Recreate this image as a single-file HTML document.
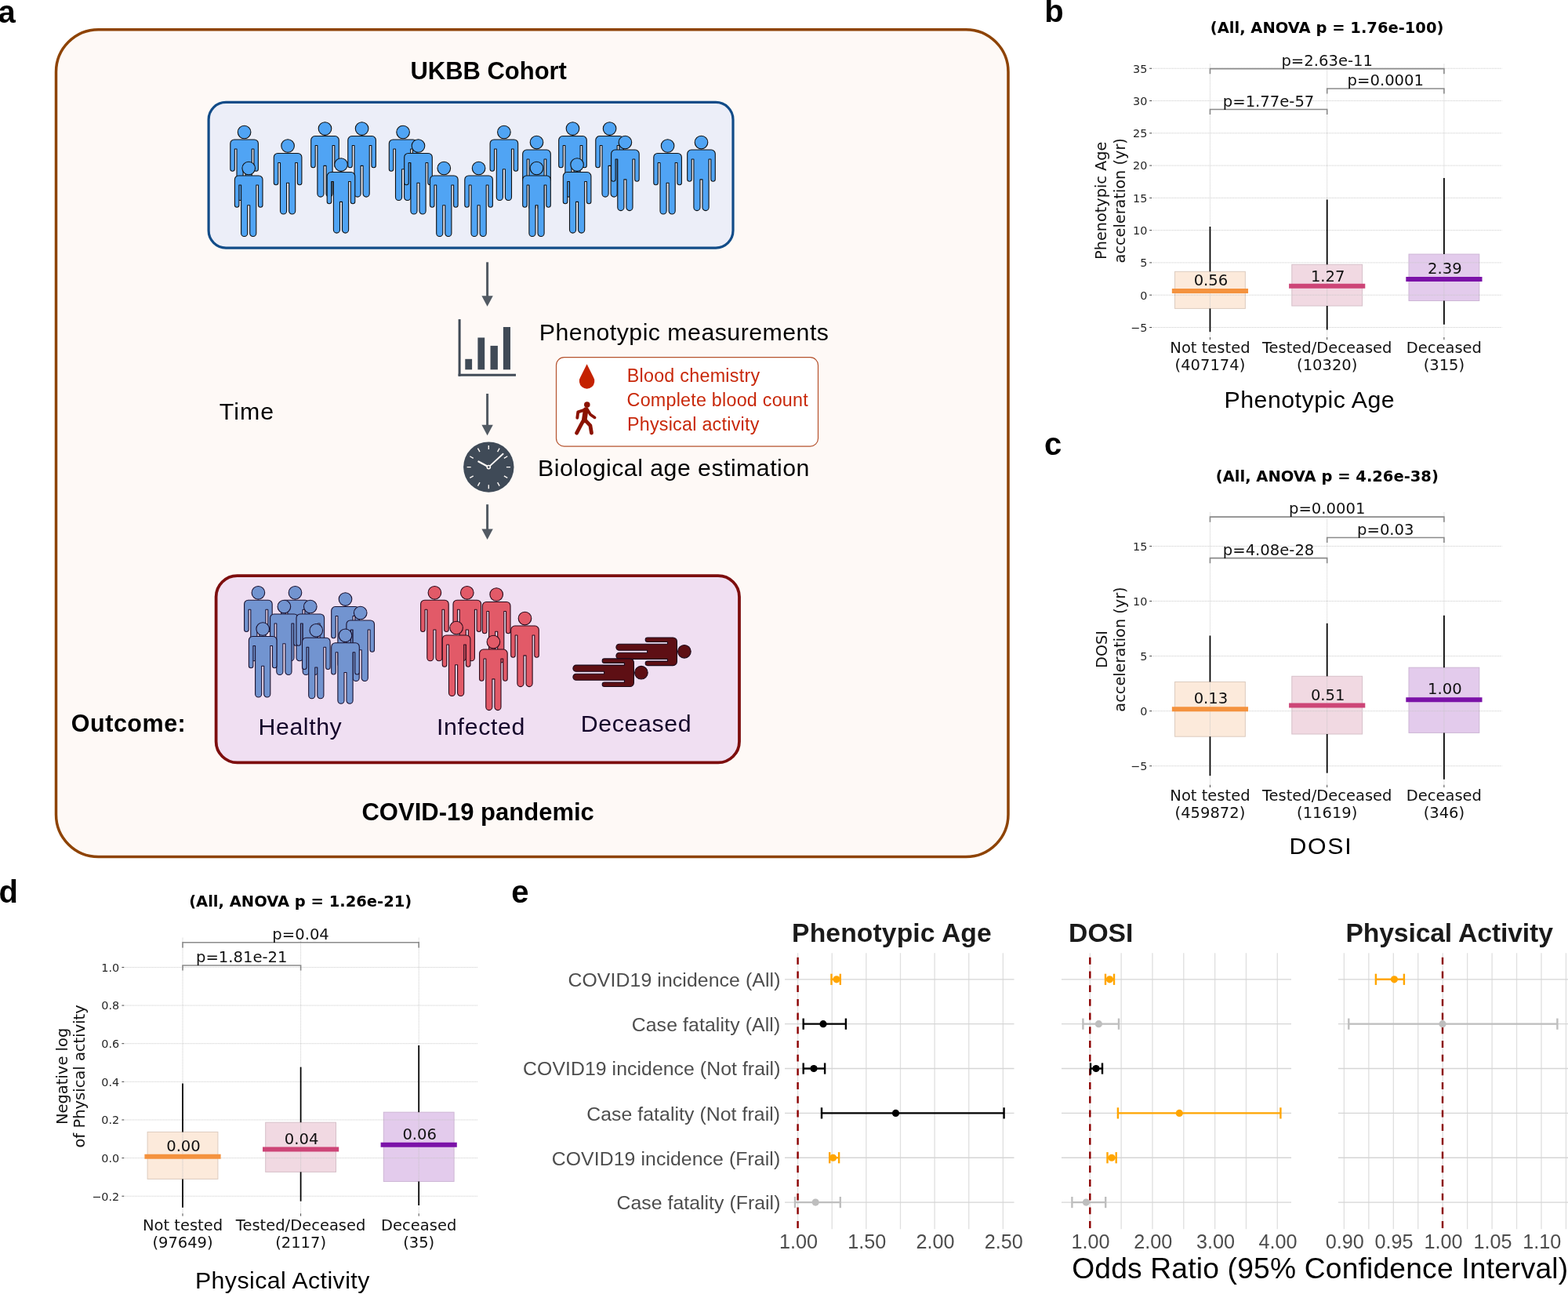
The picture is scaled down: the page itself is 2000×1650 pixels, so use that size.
<!DOCTYPE html><html><head><meta charset="utf-8"><title>Figure</title><style>html,body{margin:0;padding:0;background:#fff;}svg{display:block;}</style></head><body>
<svg width="2000" height="1650" viewBox="0 0 2000 1650">
<rect x="0" y="0" width="2000" height="1650" fill="#fff"/>
<rect x="71.5" y="37.7" width="1214.5" height="1054.8" rx="54" ry="54" fill="#FEF9F6" stroke="#8E4304" stroke-width="3.5"/>
<text x="523.4" y="101" font-family="'Liberation Sans', Arial, Helvetica, sans-serif" font-size="31" font-weight="bold" fill="#000" text-anchor="start" textLength="199.53" lengthAdjust="spacing" >UKBB Cohort</text>
<rect x="266.1" y="130.4" width="668.9" height="185.7" rx="22" ry="22" fill="#ECEEF8" stroke="#124C88" stroke-width="3.2"/>
<g transform="translate(414.5,155.85)" fill="#50A4F4" stroke="#111" stroke-width="1.1" stroke-linejoin="round"><path d="M-12.8,17.7 H12.8 A5,5 0 0 1 17.8,22.7 V55.2 A2.75,2.75 0 0 1 12.3,55.2 V29.7 H9.6 V91.2 A4.05,4.05 0 0 1 1.5,91.2 V55.5 H-1.5 V91.2 A4.05,4.05 0 0 1 -9.6,91.2 V29.7 H-12.3 V55.2 A2.75,2.75 0 0 1 -17.8,55.2 V22.7 A5,5 0 0 1 -12.8,17.7 Z"/><circle cx="0" cy="8.25" r="8.3"/></g>
<g transform="translate(461.6,155.85)" fill="#50A4F4" stroke="#111" stroke-width="1.1" stroke-linejoin="round"><path d="M-12.8,17.7 H12.8 A5,5 0 0 1 17.8,22.7 V55.2 A2.75,2.75 0 0 1 12.3,55.2 V29.7 H9.6 V91.2 A4.05,4.05 0 0 1 1.5,91.2 V55.5 H-1.5 V91.2 A4.05,4.05 0 0 1 -9.6,91.2 V29.7 H-12.3 V55.2 A2.75,2.75 0 0 1 -17.8,55.2 V22.7 A5,5 0 0 1 -12.8,17.7 Z"/><circle cx="0" cy="8.25" r="8.3"/></g>
<g transform="translate(730.5,155.85)" fill="#50A4F4" stroke="#111" stroke-width="1.1" stroke-linejoin="round"><path d="M-12.8,17.7 H12.8 A5,5 0 0 1 17.8,22.7 V55.2 A2.75,2.75 0 0 1 12.3,55.2 V29.7 H9.6 V91.2 A4.05,4.05 0 0 1 1.5,91.2 V55.5 H-1.5 V91.2 A4.05,4.05 0 0 1 -9.6,91.2 V29.7 H-12.3 V55.2 A2.75,2.75 0 0 1 -17.8,55.2 V22.7 A5,5 0 0 1 -12.8,17.7 Z"/><circle cx="0" cy="8.25" r="8.3"/></g>
<g transform="translate(777.6,155.85)" fill="#50A4F4" stroke="#111" stroke-width="1.1" stroke-linejoin="round"><path d="M-12.8,17.7 H12.8 A5,5 0 0 1 17.8,22.7 V55.2 A2.75,2.75 0 0 1 12.3,55.2 V29.7 H9.6 V91.2 A4.05,4.05 0 0 1 1.5,91.2 V55.5 H-1.5 V91.2 A4.05,4.05 0 0 1 -9.6,91.2 V29.7 H-12.3 V55.2 A2.75,2.75 0 0 1 -17.8,55.2 V22.7 A5,5 0 0 1 -12.8,17.7 Z"/><circle cx="0" cy="8.25" r="8.3"/></g>
<g transform="translate(311.6,160.25)" fill="#50A4F4" stroke="#111" stroke-width="1.1" stroke-linejoin="round"><path d="M-12.8,17.7 H12.8 A5,5 0 0 1 17.8,22.7 V55.2 A2.75,2.75 0 0 1 12.3,55.2 V29.7 H9.6 V91.2 A4.05,4.05 0 0 1 1.5,91.2 V55.5 H-1.5 V91.2 A4.05,4.05 0 0 1 -9.6,91.2 V29.7 H-12.3 V55.2 A2.75,2.75 0 0 1 -17.8,55.2 V22.7 A5,5 0 0 1 -12.8,17.7 Z"/><circle cx="0" cy="8.25" r="8.3"/></g>
<g transform="translate(514.1,160.25)" fill="#50A4F4" stroke="#111" stroke-width="1.1" stroke-linejoin="round"><path d="M-12.8,17.7 H12.8 A5,5 0 0 1 17.8,22.7 V55.2 A2.75,2.75 0 0 1 12.3,55.2 V29.7 H9.6 V91.2 A4.05,4.05 0 0 1 1.5,91.2 V55.5 H-1.5 V91.2 A4.05,4.05 0 0 1 -9.6,91.2 V29.7 H-12.3 V55.2 A2.75,2.75 0 0 1 -17.8,55.2 V22.7 A5,5 0 0 1 -12.8,17.7 Z"/><circle cx="0" cy="8.25" r="8.3"/></g>
<g transform="translate(642.9,160.25)" fill="#50A4F4" stroke="#111" stroke-width="1.1" stroke-linejoin="round"><path d="M-12.8,17.7 H12.8 A5,5 0 0 1 17.8,22.7 V55.2 A2.75,2.75 0 0 1 12.3,55.2 V29.7 H9.6 V91.2 A4.05,4.05 0 0 1 1.5,91.2 V55.5 H-1.5 V91.2 A4.05,4.05 0 0 1 -9.6,91.2 V29.7 H-12.3 V55.2 A2.75,2.75 0 0 1 -17.8,55.2 V22.7 A5,5 0 0 1 -12.8,17.7 Z"/><circle cx="0" cy="8.25" r="8.3"/></g>
<g transform="translate(684.5,173.35)" fill="#50A4F4" stroke="#111" stroke-width="1.1" stroke-linejoin="round"><path d="M-12.8,17.7 H12.8 A5,5 0 0 1 17.8,22.7 V55.2 A2.75,2.75 0 0 1 12.3,55.2 V29.7 H9.6 V91.2 A4.05,4.05 0 0 1 1.5,91.2 V55.5 H-1.5 V91.2 A4.05,4.05 0 0 1 -9.6,91.2 V29.7 H-12.3 V55.2 A2.75,2.75 0 0 1 -17.8,55.2 V22.7 A5,5 0 0 1 -12.8,17.7 Z"/><circle cx="0" cy="8.25" r="8.3"/></g>
<g transform="translate(797.4,173.35)" fill="#50A4F4" stroke="#111" stroke-width="1.1" stroke-linejoin="round"><path d="M-12.8,17.7 H12.8 A5,5 0 0 1 17.8,22.7 V55.2 A2.75,2.75 0 0 1 12.3,55.2 V29.7 H9.6 V91.2 A4.05,4.05 0 0 1 1.5,91.2 V55.5 H-1.5 V91.2 A4.05,4.05 0 0 1 -9.6,91.2 V29.7 H-12.3 V55.2 A2.75,2.75 0 0 1 -17.8,55.2 V22.7 A5,5 0 0 1 -12.8,17.7 Z"/><circle cx="0" cy="8.25" r="8.3"/></g>
<g transform="translate(894.5,173.35)" fill="#50A4F4" stroke="#111" stroke-width="1.1" stroke-linejoin="round"><path d="M-12.8,17.7 H12.8 A5,5 0 0 1 17.8,22.7 V55.2 A2.75,2.75 0 0 1 12.3,55.2 V29.7 H9.6 V91.2 A4.05,4.05 0 0 1 1.5,91.2 V55.5 H-1.5 V91.2 A4.05,4.05 0 0 1 -9.6,91.2 V29.7 H-12.3 V55.2 A2.75,2.75 0 0 1 -17.8,55.2 V22.7 A5,5 0 0 1 -12.8,17.7 Z"/><circle cx="0" cy="8.25" r="8.3"/></g>
<g transform="translate(367.1,177.75)" fill="#50A4F4" stroke="#111" stroke-width="1.1" stroke-linejoin="round"><path d="M-12.8,17.7 H12.8 A5,5 0 0 1 17.8,22.7 V55.2 A2.75,2.75 0 0 1 12.3,55.2 V29.7 H9.6 V91.2 A4.05,4.05 0 0 1 1.5,91.2 V55.5 H-1.5 V91.2 A4.05,4.05 0 0 1 -9.6,91.2 V29.7 H-12.3 V55.2 A2.75,2.75 0 0 1 -17.8,55.2 V22.7 A5,5 0 0 1 -12.8,17.7 Z"/><circle cx="0" cy="8.25" r="8.3"/></g>
<g transform="translate(533.5,177.75)" fill="#50A4F4" stroke="#111" stroke-width="1.1" stroke-linejoin="round"><path d="M-12.8,17.7 H12.8 A5,5 0 0 1 17.8,22.7 V55.2 A2.75,2.75 0 0 1 12.3,55.2 V29.7 H9.6 V91.2 A4.05,4.05 0 0 1 1.5,91.2 V55.5 H-1.5 V91.2 A4.05,4.05 0 0 1 -9.6,91.2 V29.7 H-12.3 V55.2 A2.75,2.75 0 0 1 -17.8,55.2 V22.7 A5,5 0 0 1 -12.8,17.7 Z"/><circle cx="0" cy="8.25" r="8.3"/></g>
<g transform="translate(851.6,177.75)" fill="#50A4F4" stroke="#111" stroke-width="1.1" stroke-linejoin="round"><path d="M-12.8,17.7 H12.8 A5,5 0 0 1 17.8,22.7 V55.2 A2.75,2.75 0 0 1 12.3,55.2 V29.7 H9.6 V91.2 A4.05,4.05 0 0 1 1.5,91.2 V55.5 H-1.5 V91.2 A4.05,4.05 0 0 1 -9.6,91.2 V29.7 H-12.3 V55.2 A2.75,2.75 0 0 1 -17.8,55.2 V22.7 A5,5 0 0 1 -12.8,17.7 Z"/><circle cx="0" cy="8.25" r="8.3"/></g>
<g transform="translate(435,201.85)" fill="#50A4F4" stroke="#111" stroke-width="1.1" stroke-linejoin="round"><path d="M-12.8,17.7 H12.8 A5,5 0 0 1 17.8,22.7 V55.2 A2.75,2.75 0 0 1 12.3,55.2 V29.7 H9.6 V91.2 A4.05,4.05 0 0 1 1.5,91.2 V55.5 H-1.5 V91.2 A4.05,4.05 0 0 1 -9.6,91.2 V29.7 H-12.3 V55.2 A2.75,2.75 0 0 1 -17.8,55.2 V22.7 A5,5 0 0 1 -12.8,17.7 Z"/><circle cx="0" cy="8.25" r="8.3"/></g>
<g transform="translate(736.1,201.85)" fill="#50A4F4" stroke="#111" stroke-width="1.1" stroke-linejoin="round"><path d="M-12.8,17.7 H12.8 A5,5 0 0 1 17.8,22.7 V55.2 A2.75,2.75 0 0 1 12.3,55.2 V29.7 H9.6 V91.2 A4.05,4.05 0 0 1 1.5,91.2 V55.5 H-1.5 V91.2 A4.05,4.05 0 0 1 -9.6,91.2 V29.7 H-12.3 V55.2 A2.75,2.75 0 0 1 -17.8,55.2 V22.7 A5,5 0 0 1 -12.8,17.7 Z"/><circle cx="0" cy="8.25" r="8.3"/></g>
<g transform="translate(317.2,206.25)" fill="#50A4F4" stroke="#111" stroke-width="1.1" stroke-linejoin="round"><path d="M-12.8,17.7 H12.8 A5,5 0 0 1 17.8,22.7 V55.2 A2.75,2.75 0 0 1 12.3,55.2 V29.7 H9.6 V91.2 A4.05,4.05 0 0 1 1.5,91.2 V55.5 H-1.5 V91.2 A4.05,4.05 0 0 1 -9.6,91.2 V29.7 H-12.3 V55.2 A2.75,2.75 0 0 1 -17.8,55.2 V22.7 A5,5 0 0 1 -12.8,17.7 Z"/><circle cx="0" cy="8.25" r="8.3"/></g>
<g transform="translate(566.3,206.25)" fill="#50A4F4" stroke="#111" stroke-width="1.1" stroke-linejoin="round"><path d="M-12.8,17.7 H12.8 A5,5 0 0 1 17.8,22.7 V55.2 A2.75,2.75 0 0 1 12.3,55.2 V29.7 H9.6 V91.2 A4.05,4.05 0 0 1 1.5,91.2 V55.5 H-1.5 V91.2 A4.05,4.05 0 0 1 -9.6,91.2 V29.7 H-12.3 V55.2 A2.75,2.75 0 0 1 -17.8,55.2 V22.7 A5,5 0 0 1 -12.8,17.7 Z"/><circle cx="0" cy="8.25" r="8.3"/></g>
<g transform="translate(610.6,206.25)" fill="#50A4F4" stroke="#111" stroke-width="1.1" stroke-linejoin="round"><path d="M-12.8,17.7 H12.8 A5,5 0 0 1 17.8,22.7 V55.2 A2.75,2.75 0 0 1 12.3,55.2 V29.7 H9.6 V91.2 A4.05,4.05 0 0 1 1.5,91.2 V55.5 H-1.5 V91.2 A4.05,4.05 0 0 1 -9.6,91.2 V29.7 H-12.3 V55.2 A2.75,2.75 0 0 1 -17.8,55.2 V22.7 A5,5 0 0 1 -12.8,17.7 Z"/><circle cx="0" cy="8.25" r="8.3"/></g>
<g transform="translate(684.5,206.25)" fill="#50A4F4" stroke="#111" stroke-width="1.1" stroke-linejoin="round"><path d="M-12.8,17.7 H12.8 A5,5 0 0 1 17.8,22.7 V55.2 A2.75,2.75 0 0 1 12.3,55.2 V29.7 H9.6 V91.2 A4.05,4.05 0 0 1 1.5,91.2 V55.5 H-1.5 V91.2 A4.05,4.05 0 0 1 -9.6,91.2 V29.7 H-12.3 V55.2 A2.75,2.75 0 0 1 -17.8,55.2 V22.7 A5,5 0 0 1 -12.8,17.7 Z"/><circle cx="0" cy="8.25" r="8.3"/></g>
<line x1="621.6" y1="334.3" x2="621.6" y2="378.2" stroke="#525A63" stroke-width="3"/>
<path d="M614.4,377.2 L628.8,377.2 L621.6,390.7 Z" fill="#525A63"/>
<line x1="621.6" y1="502" x2="621.6" y2="542.8" stroke="#525A63" stroke-width="3"/>
<path d="M614.4,541.8 L628.8,541.8 L621.6,555.3 Z" fill="#525A63"/>
<line x1="621.6" y1="643.2" x2="621.6" y2="675.4" stroke="#525A63" stroke-width="3"/>
<path d="M614.4,674.4 L628.8,674.4 L621.6,687.9 Z" fill="#525A63"/>
<g fill="#404A56"><rect x="584.6" y="407.1" width="3" height="72.6"/><rect x="584.6" y="476.7" width="73.4" height="3"/><rect x="593.3" y="457.8" width="8.8" height="13.5"/><rect x="609.4" y="430.5" width="8.8" height="40.8"/><rect x="625.5" y="440.9" width="9.4" height="30.4"/><rect x="641.9" y="417.0" width="9.1" height="54.3"/></g>
<text x="687.8" y="433.6" font-family="'Liberation Sans', Arial, Helvetica, sans-serif" font-size="30.3" font-weight="normal" fill="#000" text-anchor="start" textLength="369.17" lengthAdjust="spacing" >Phenotypic measurements</text>
<rect x="709.5" y="455.7" width="334" height="113.4" rx="10" ry="10" fill="#FFFFFF" stroke="#B5532E" stroke-width="1.2"/>
<path d="M748.6,464.3 L756.7,480.6 A9.7,9.7 0 1 1 740.5,480.6 Z" fill="#C42200"/>
<g stroke="#8B1200" stroke-linecap="round" stroke-linejoin="round" fill="none"><circle cx="748.8" cy="516.1" r="3.8" fill="#8B1200" stroke="none"/><path d="M747.2,522.6 L745.2,536" stroke-width="6.6"/><path d="M746.5,522.3 L737.3,525.3 L736.3,532.8" stroke-width="3.9"/><path d="M749,521.9 L752.9,528.4 L758.6,532.4" stroke-width="3.7"/><path d="M743.6,537.2 L740.3,543.2 L735.6,552.2" stroke-width="4.8"/><path d="M746.3,535.6 L752.9,542.6 L754.5,552.2" stroke-width="4.8"/></g>
<text x="799.69" y="486.5" font-family="'Liberation Sans', Arial, Helvetica, sans-serif" font-size="23.3" font-weight="normal" fill="#C8280A" text-anchor="start" textLength="169.38" lengthAdjust="spacing" >Blood chemistry</text>
<text x="799.6" y="517.75" font-family="'Liberation Sans', Arial, Helvetica, sans-serif" font-size="23.3" font-weight="normal" fill="#C8280A" text-anchor="start" textLength="231.08" lengthAdjust="spacing" >Complete blood count</text>
<text x="799.9" y="548.75" font-family="'Liberation Sans', Arial, Helvetica, sans-serif" font-size="23.3" font-weight="normal" fill="#C8280A" text-anchor="start" textLength="168.46" lengthAdjust="spacing" >Physical activity</text>
<circle cx="623.3" cy="595.6" r="32.2" fill="#3F4A57"/>
<path d="M623.3,573 L623.3,567.9 M634.6,576.03 L637.15,571.61 M642.87,584.3 L647.29,581.75 M645.9,595.6 L651,595.6 M642.87,606.9 L647.29,609.45 M634.6,615.17 L637.15,619.59 M623.3,618.2 L623.3,623.3 M612,615.17 L609.45,619.59 M603.73,606.9 L599.31,609.45 M600.7,595.6 L595.6,595.6 M603.73,584.3 L599.31,581.75 M612,576.03 L609.45,571.61" stroke="#FEF9F6" stroke-width="1.4" fill="none"/>
<path d="M623.3,595.6 L610.4,588.5" stroke="#FEF9F6" stroke-width="2.3" stroke-linecap="round"/>
<path d="M623.3,595.6 L641.6,578.8" stroke="#FEF9F6" stroke-width="1.9" stroke-linecap="round"/>
<circle cx="623.3" cy="595.6" r="2.1" fill="#3F4A57" stroke="#FEF9F6" stroke-width="1.5"/>
<text x="686" y="606.8" font-family="'Liberation Sans', Arial, Helvetica, sans-serif" font-size="30.3" font-weight="normal" fill="#000" text-anchor="start" textLength="346.4" lengthAdjust="spacing" >Biological age estimation</text>
<text x="279.75" y="534.5" font-family="'Liberation Sans', Arial, Helvetica, sans-serif" font-size="30.3" font-weight="normal" fill="#000" text-anchor="start" textLength="69.27" lengthAdjust="spacing" >Time</text>
<rect x="275.6" y="734.1" width="667.4" height="238.3" rx="27" ry="27" fill="#F0DFF2" stroke="#7D0E0E" stroke-width="3.8"/>
<text x="90.8" y="933" font-family="'Liberation Sans', Arial, Helvetica, sans-serif" font-size="30.5" font-weight="bold" fill="#000" text-anchor="start" textLength="145.99" lengthAdjust="spacing" >Outcome:</text>
<g transform="translate(329.4,747.55)" fill="#7294D0" stroke="#1A1230" stroke-width="1.1" stroke-linejoin="round"><path d="M-12.8,17.7 H12.8 A5,5 0 0 1 17.8,22.7 V55.2 A2.75,2.75 0 0 1 12.3,55.2 V29.7 H9.6 V91.2 A4.05,4.05 0 0 1 1.5,91.2 V55.5 H-1.5 V91.2 A4.05,4.05 0 0 1 -9.6,91.2 V29.7 H-12.3 V55.2 A2.75,2.75 0 0 1 -17.8,55.2 V22.7 A5,5 0 0 1 -12.8,17.7 Z"/><circle cx="0" cy="8.25" r="8.3"/></g>
<g transform="translate(376.5,747.55)" fill="#7294D0" stroke="#1A1230" stroke-width="1.1" stroke-linejoin="round"><path d="M-12.8,17.7 H12.8 A5,5 0 0 1 17.8,22.7 V55.2 A2.75,2.75 0 0 1 12.3,55.2 V29.7 H9.6 V91.2 A4.05,4.05 0 0 1 1.5,91.2 V55.5 H-1.5 V91.2 A4.05,4.05 0 0 1 -9.6,91.2 V29.7 H-12.3 V55.2 A2.75,2.75 0 0 1 -17.8,55.2 V22.7 A5,5 0 0 1 -12.8,17.7 Z"/><circle cx="0" cy="8.25" r="8.3"/></g>
<g transform="translate(440.5,755.85)" fill="#7294D0" stroke="#1A1230" stroke-width="1.1" stroke-linejoin="round"><path d="M-12.8,17.7 H12.8 A5,5 0 0 1 17.8,22.7 V55.2 A2.75,2.75 0 0 1 12.3,55.2 V29.7 H9.6 V91.2 A4.05,4.05 0 0 1 1.5,91.2 V55.5 H-1.5 V91.2 A4.05,4.05 0 0 1 -9.6,91.2 V29.7 H-12.3 V55.2 A2.75,2.75 0 0 1 -17.8,55.2 V22.7 A5,5 0 0 1 -12.8,17.7 Z"/><circle cx="0" cy="8.25" r="8.3"/></g>
<g transform="translate(362.4,765.25)" fill="#7294D0" stroke="#1A1230" stroke-width="1.1" stroke-linejoin="round"><path d="M-12.8,17.7 H12.8 A5,5 0 0 1 17.8,22.7 V55.2 A2.75,2.75 0 0 1 12.3,55.2 V29.7 H9.6 V91.2 A4.05,4.05 0 0 1 1.5,91.2 V55.5 H-1.5 V91.2 A4.05,4.05 0 0 1 -9.6,91.2 V29.7 H-12.3 V55.2 A2.75,2.75 0 0 1 -17.8,55.2 V22.7 A5,5 0 0 1 -12.8,17.7 Z"/><circle cx="0" cy="8.25" r="8.3"/></g>
<g transform="translate(395.8,765.25)" fill="#7294D0" stroke="#1A1230" stroke-width="1.1" stroke-linejoin="round"><path d="M-12.8,17.7 H12.8 A5,5 0 0 1 17.8,22.7 V55.2 A2.75,2.75 0 0 1 12.3,55.2 V29.7 H9.6 V91.2 A4.05,4.05 0 0 1 1.5,91.2 V55.5 H-1.5 V91.2 A4.05,4.05 0 0 1 -9.6,91.2 V29.7 H-12.3 V55.2 A2.75,2.75 0 0 1 -17.8,55.2 V22.7 A5,5 0 0 1 -12.8,17.7 Z"/><circle cx="0" cy="8.25" r="8.3"/></g>
<g transform="translate(459.7,773.25)" fill="#7294D0" stroke="#1A1230" stroke-width="1.1" stroke-linejoin="round"><path d="M-12.8,17.7 H12.8 A5,5 0 0 1 17.8,22.7 V55.2 A2.75,2.75 0 0 1 12.3,55.2 V29.7 H9.6 V91.2 A4.05,4.05 0 0 1 1.5,91.2 V55.5 H-1.5 V91.2 A4.05,4.05 0 0 1 -9.6,91.2 V29.7 H-12.3 V55.2 A2.75,2.75 0 0 1 -17.8,55.2 V22.7 A5,5 0 0 1 -12.8,17.7 Z"/><circle cx="0" cy="8.25" r="8.3"/></g>
<g transform="translate(335.2,793.75)" fill="#7294D0" stroke="#1A1230" stroke-width="1.1" stroke-linejoin="round"><path d="M-12.8,17.7 H12.8 A5,5 0 0 1 17.8,22.7 V55.2 A2.75,2.75 0 0 1 12.3,55.2 V29.7 H9.6 V91.2 A4.05,4.05 0 0 1 1.5,91.2 V55.5 H-1.5 V91.2 A4.05,4.05 0 0 1 -9.6,91.2 V29.7 H-12.3 V55.2 A2.75,2.75 0 0 1 -17.8,55.2 V22.7 A5,5 0 0 1 -12.8,17.7 Z"/><circle cx="0" cy="8.25" r="8.3"/></g>
<g transform="translate(403.3,795.55)" fill="#7294D0" stroke="#1A1230" stroke-width="1.1" stroke-linejoin="round"><path d="M-12.8,17.7 H12.8 A5,5 0 0 1 17.8,22.7 V55.2 A2.75,2.75 0 0 1 12.3,55.2 V29.7 H9.6 V91.2 A4.05,4.05 0 0 1 1.5,91.2 V55.5 H-1.5 V91.2 A4.05,4.05 0 0 1 -9.6,91.2 V29.7 H-12.3 V55.2 A2.75,2.75 0 0 1 -17.8,55.2 V22.7 A5,5 0 0 1 -12.8,17.7 Z"/><circle cx="0" cy="8.25" r="8.3"/></g>
<g transform="translate(440.5,802.05)" fill="#7294D0" stroke="#1A1230" stroke-width="1.1" stroke-linejoin="round"><path d="M-12.8,17.7 H12.8 A5,5 0 0 1 17.8,22.7 V55.2 A2.75,2.75 0 0 1 12.3,55.2 V29.7 H9.6 V91.2 A4.05,4.05 0 0 1 1.5,91.2 V55.5 H-1.5 V91.2 A4.05,4.05 0 0 1 -9.6,91.2 V29.7 H-12.3 V55.2 A2.75,2.75 0 0 1 -17.8,55.2 V22.7 A5,5 0 0 1 -12.8,17.7 Z"/><circle cx="0" cy="8.25" r="8.3"/></g>
<g transform="translate(554.4,747.55)" fill="#E25A68" stroke="#2A0A1A" stroke-width="1.1" stroke-linejoin="round"><path d="M-12.8,17.7 H12.8 A5,5 0 0 1 17.8,22.7 V55.2 A2.75,2.75 0 0 1 12.3,55.2 V29.7 H9.6 V91.2 A4.05,4.05 0 0 1 1.5,91.2 V55.5 H-1.5 V91.2 A4.05,4.05 0 0 1 -9.6,91.2 V29.7 H-12.3 V55.2 A2.75,2.75 0 0 1 -17.8,55.2 V22.7 A5,5 0 0 1 -12.8,17.7 Z"/><circle cx="0" cy="8.25" r="8.3"/></g>
<g transform="translate(595.8,747.55)" fill="#E25A68" stroke="#2A0A1A" stroke-width="1.1" stroke-linejoin="round"><path d="M-12.8,17.7 H12.8 A5,5 0 0 1 17.8,22.7 V55.2 A2.75,2.75 0 0 1 12.3,55.2 V29.7 H9.6 V91.2 A4.05,4.05 0 0 1 1.5,91.2 V55.5 H-1.5 V91.2 A4.05,4.05 0 0 1 -9.6,91.2 V29.7 H-12.3 V55.2 A2.75,2.75 0 0 1 -17.8,55.2 V22.7 A5,5 0 0 1 -12.8,17.7 Z"/><circle cx="0" cy="8.25" r="8.3"/></g>
<g transform="translate(633.2,749.75)" fill="#E25A68" stroke="#2A0A1A" stroke-width="1.1" stroke-linejoin="round"><path d="M-12.8,17.7 H12.8 A5,5 0 0 1 17.8,22.7 V55.2 A2.75,2.75 0 0 1 12.3,55.2 V29.7 H9.6 V91.2 A4.05,4.05 0 0 1 1.5,91.2 V55.5 H-1.5 V91.2 A4.05,4.05 0 0 1 -9.6,91.2 V29.7 H-12.3 V55.2 A2.75,2.75 0 0 1 -17.8,55.2 V22.7 A5,5 0 0 1 -12.8,17.7 Z"/><circle cx="0" cy="8.25" r="8.3"/></g>
<g transform="translate(669.5,780.35)" fill="#E25A68" stroke="#2A0A1A" stroke-width="1.1" stroke-linejoin="round"><path d="M-12.8,17.7 H12.8 A5,5 0 0 1 17.8,22.7 V55.2 A2.75,2.75 0 0 1 12.3,55.2 V29.7 H9.6 V91.2 A4.05,4.05 0 0 1 1.5,91.2 V55.5 H-1.5 V91.2 A4.05,4.05 0 0 1 -9.6,91.2 V29.7 H-12.3 V55.2 A2.75,2.75 0 0 1 -17.8,55.2 V22.7 A5,5 0 0 1 -12.8,17.7 Z"/><circle cx="0" cy="8.25" r="8.3"/></g>
<g transform="translate(582.1,792.25)" fill="#E25A68" stroke="#2A0A1A" stroke-width="1.1" stroke-linejoin="round"><path d="M-12.8,17.7 H12.8 A5,5 0 0 1 17.8,22.7 V55.2 A2.75,2.75 0 0 1 12.3,55.2 V29.7 H9.6 V91.2 A4.05,4.05 0 0 1 1.5,91.2 V55.5 H-1.5 V91.2 A4.05,4.05 0 0 1 -9.6,91.2 V29.7 H-12.3 V55.2 A2.75,2.75 0 0 1 -17.8,55.2 V22.7 A5,5 0 0 1 -12.8,17.7 Z"/><circle cx="0" cy="8.25" r="8.3"/></g>
<g transform="translate(629.4,810.35)" fill="#E25A68" stroke="#2A0A1A" stroke-width="1.1" stroke-linejoin="round"><path d="M-12.8,17.7 H12.8 A5,5 0 0 1 17.8,22.7 V55.2 A2.75,2.75 0 0 1 12.3,55.2 V29.7 H9.6 V91.2 A4.05,4.05 0 0 1 1.5,91.2 V55.5 H-1.5 V91.2 A4.05,4.05 0 0 1 -9.6,91.2 V29.7 H-12.3 V55.2 A2.75,2.75 0 0 1 -17.8,55.2 V22.7 A5,5 0 0 1 -12.8,17.7 Z"/><circle cx="0" cy="8.25" r="8.3"/></g>
<g transform="translate(881.15,830.8) rotate(90)" fill="#5E0F14" stroke="#1A0A1A" stroke-width="1.1" stroke-linejoin="round"><path d="M-12.8,17.7 H12.8 A5,5 0 0 1 17.8,22.7 V55.2 A2.75,2.75 0 0 1 12.3,55.2 V29.7 H9.6 V91.2 A4.05,4.05 0 0 1 1.5,91.2 V55.5 H-1.5 V91.2 A4.05,4.05 0 0 1 -9.6,91.2 V29.7 H-12.3 V55.2 A2.75,2.75 0 0 1 -17.8,55.2 V22.7 A5,5 0 0 1 -12.8,17.7 Z"/><circle cx="0" cy="8.25" r="8.3"/></g>
<g transform="translate(826.15,857.7) rotate(90)" fill="#5E0F14" stroke="#1A0A1A" stroke-width="1.1" stroke-linejoin="round"><path d="M-12.8,17.7 H12.8 A5,5 0 0 1 17.8,22.7 V55.2 A2.75,2.75 0 0 1 12.3,55.2 V29.7 H9.6 V91.2 A4.05,4.05 0 0 1 1.5,91.2 V55.5 H-1.5 V91.2 A4.05,4.05 0 0 1 -9.6,91.2 V29.7 H-12.3 V55.2 A2.75,2.75 0 0 1 -17.8,55.2 V22.7 A5,5 0 0 1 -12.8,17.7 Z"/><circle cx="0" cy="8.25" r="8.3"/></g>
<text x="329.5" y="936.8" font-family="'Liberation Sans', Arial, Helvetica, sans-serif" font-size="30.3" font-weight="normal" fill="#14052A" text-anchor="start" textLength="106.23" lengthAdjust="spacing" >Healthy</text>
<text x="556.95" y="936.8" font-family="'Liberation Sans', Arial, Helvetica, sans-serif" font-size="30.3" font-weight="normal" fill="#14052A" text-anchor="start" textLength="112.49" lengthAdjust="spacing" >Infected</text>
<text x="740.8" y="933" font-family="'Liberation Sans', Arial, Helvetica, sans-serif" font-size="30.3" font-weight="normal" fill="#14052A" text-anchor="start" textLength="140.78" lengthAdjust="spacing" >Deceased</text>
<text x="461.45" y="1045.9" font-family="'Liberation Sans', Arial, Helvetica, sans-serif" font-size="31" font-weight="bold" fill="#000" text-anchor="start" textLength="296.42" lengthAdjust="spacing" >COVID-19 pandemic</text>
<text x="-2.6" y="28.6" font-family="'Liberation Sans', Arial, Helvetica, sans-serif" font-size="40" font-weight="bold" fill="#000" text-anchor="start" >a</text>
<text x="1332.2" y="28.3" font-family="'Liberation Sans', Arial, Helvetica, sans-serif" font-size="40" font-weight="bold" fill="#000" text-anchor="start" >b</text>
<text x="1331.9" y="579.5" font-family="'Liberation Sans', Arial, Helvetica, sans-serif" font-size="40" font-weight="bold" fill="#000" text-anchor="start" >c</text>
<text x="-1.6" y="1151.3" font-family="'Liberation Sans', Arial, Helvetica, sans-serif" font-size="40" font-weight="bold" fill="#000" text-anchor="start" >d</text>
<text x="652.2" y="1151.2" font-family="'Liberation Sans', Arial, Helvetica, sans-serif" font-size="40" font-weight="bold" fill="#000" text-anchor="start" >e</text>
<rect x="1498.55" y="346.3" width="89.8" height="47.1" fill="#FCEADB" stroke="#DCCBBF" stroke-width="1"/>
<rect x="1647.8" y="337.3" width="89.8" height="52.7" fill="#F1D9E2" stroke="#D6C0C9" stroke-width="1"/>
<rect x="1797" y="324.1" width="89.8" height="59.4" fill="#E3CBEC" stroke="#CDB6D5" stroke-width="1"/>
<line x1="1469" y1="417.47" x2="1915.5" y2="417.47" stroke="#C4C4C4" stroke-width="0.9" stroke-dasharray="1,1"/>
<line x1="1466.2" y1="417.47" x2="1469" y2="417.47" stroke="#444" stroke-width="1"/>
<text x="1463.3" y="422.87" font-family="'DejaVu Sans', 'Liberation Sans', sans-serif" font-size="14.4" font-weight="normal" fill="#262626" text-anchor="end" >−5</text>
<line x1="1469" y1="376.19" x2="1915.5" y2="376.19" stroke="#C4C4C4" stroke-width="0.9" stroke-dasharray="1,1"/>
<line x1="1466.2" y1="376.19" x2="1469" y2="376.19" stroke="#444" stroke-width="1"/>
<text x="1463.3" y="381.59" font-family="'DejaVu Sans', 'Liberation Sans', sans-serif" font-size="14.4" font-weight="normal" fill="#262626" text-anchor="end" >0</text>
<line x1="1469" y1="334.91" x2="1915.5" y2="334.91" stroke="#C4C4C4" stroke-width="0.9" stroke-dasharray="1,1"/>
<line x1="1466.2" y1="334.91" x2="1469" y2="334.91" stroke="#444" stroke-width="1"/>
<text x="1463.3" y="340.31" font-family="'DejaVu Sans', 'Liberation Sans', sans-serif" font-size="14.4" font-weight="normal" fill="#262626" text-anchor="end" >5</text>
<line x1="1469" y1="293.64" x2="1915.5" y2="293.64" stroke="#C4C4C4" stroke-width="0.9" stroke-dasharray="1,1"/>
<line x1="1466.2" y1="293.64" x2="1469" y2="293.64" stroke="#444" stroke-width="1"/>
<text x="1463.3" y="299.04" font-family="'DejaVu Sans', 'Liberation Sans', sans-serif" font-size="14.4" font-weight="normal" fill="#262626" text-anchor="end" >10</text>
<line x1="1469" y1="252.36" x2="1915.5" y2="252.36" stroke="#C4C4C4" stroke-width="0.9" stroke-dasharray="1,1"/>
<line x1="1466.2" y1="252.36" x2="1469" y2="252.36" stroke="#444" stroke-width="1"/>
<text x="1463.3" y="257.76" font-family="'DejaVu Sans', 'Liberation Sans', sans-serif" font-size="14.4" font-weight="normal" fill="#262626" text-anchor="end" >15</text>
<line x1="1469" y1="211.09" x2="1915.5" y2="211.09" stroke="#C4C4C4" stroke-width="0.9" stroke-dasharray="1,1"/>
<line x1="1466.2" y1="211.09" x2="1469" y2="211.09" stroke="#444" stroke-width="1"/>
<text x="1463.3" y="216.49" font-family="'DejaVu Sans', 'Liberation Sans', sans-serif" font-size="14.4" font-weight="normal" fill="#262626" text-anchor="end" >20</text>
<line x1="1469" y1="169.81" x2="1915.5" y2="169.81" stroke="#C4C4C4" stroke-width="0.9" stroke-dasharray="1,1"/>
<line x1="1466.2" y1="169.81" x2="1469" y2="169.81" stroke="#444" stroke-width="1"/>
<text x="1463.3" y="175.21" font-family="'DejaVu Sans', 'Liberation Sans', sans-serif" font-size="14.4" font-weight="normal" fill="#262626" text-anchor="end" >25</text>
<line x1="1469" y1="128.54" x2="1915.5" y2="128.54" stroke="#C4C4C4" stroke-width="0.9" stroke-dasharray="1,1"/>
<line x1="1466.2" y1="128.54" x2="1469" y2="128.54" stroke="#444" stroke-width="1"/>
<text x="1463.3" y="133.94" font-family="'DejaVu Sans', 'Liberation Sans', sans-serif" font-size="14.4" font-weight="normal" fill="#262626" text-anchor="end" >30</text>
<line x1="1469" y1="87.26" x2="1915.5" y2="87.26" stroke="#C4C4C4" stroke-width="0.9" stroke-dasharray="1,1"/>
<line x1="1466.2" y1="87.26" x2="1469" y2="87.26" stroke="#444" stroke-width="1"/>
<text x="1463.3" y="92.66" font-family="'DejaVu Sans', 'Liberation Sans', sans-serif" font-size="14.4" font-weight="normal" fill="#262626" text-anchor="end" >35</text>
<line x1="1543.45" y1="81.6" x2="1543.45" y2="430" stroke="#C4C4C4" stroke-width="0.9" stroke-dasharray="1,1"/>
<line x1="1543.45" y1="430" x2="1543.45" y2="433.2" stroke="#444" stroke-width="1"/>
<line x1="1692.7" y1="81.6" x2="1692.7" y2="430" stroke="#C4C4C4" stroke-width="0.9" stroke-dasharray="1,1"/>
<line x1="1692.7" y1="430" x2="1692.7" y2="433.2" stroke="#444" stroke-width="1"/>
<line x1="1841.9" y1="81.6" x2="1841.9" y2="430" stroke="#C4C4C4" stroke-width="0.9" stroke-dasharray="1,1"/>
<line x1="1841.9" y1="430" x2="1841.9" y2="433.2" stroke="#444" stroke-width="1"/>
<line x1="1543.45" y1="289" x2="1543.45" y2="346.3" stroke="#000" stroke-width="1.75"/>
<line x1="1543.45" y1="393.4" x2="1543.45" y2="423.2" stroke="#000" stroke-width="1.75"/>
<line x1="1494.85" y1="371.1" x2="1592.05" y2="371.1" stroke="#F4923E" stroke-width="6"/>
<text x="1544.45" y="363.85" font-family="'DejaVu Sans', 'Liberation Sans', sans-serif" font-size="19.6" font-weight="normal" fill="#111" text-anchor="middle" >0.56</text>
<line x1="1692.7" y1="254.5" x2="1692.7" y2="337.3" stroke="#000" stroke-width="1.75"/>
<line x1="1692.7" y1="390" x2="1692.7" y2="420.5" stroke="#000" stroke-width="1.75"/>
<line x1="1644.1" y1="364.85" x2="1741.3" y2="364.85" stroke="#CD4577" stroke-width="6"/>
<text x="1693.7" y="358.55" font-family="'DejaVu Sans', 'Liberation Sans', sans-serif" font-size="19.6" font-weight="normal" fill="#111" text-anchor="middle" >1.27</text>
<line x1="1841.9" y1="227" x2="1841.9" y2="324.1" stroke="#000" stroke-width="1.75"/>
<line x1="1841.9" y1="383.5" x2="1841.9" y2="413.8" stroke="#000" stroke-width="1.75"/>
<line x1="1793.3" y1="356" x2="1890.5" y2="356" stroke="#7B12A8" stroke-width="6"/>
<text x="1842.9" y="348.85" font-family="'DejaVu Sans', 'Liberation Sans', sans-serif" font-size="19.6" font-weight="normal" fill="#111" text-anchor="middle" >2.39</text>
<path d="M1543.45,146.1 V139.5 H1692.7 V146.1" fill="none" stroke="#8A8A8A" stroke-width="1.6"/>
<text x="1618.08" y="135.5" font-family="'DejaVu Sans', 'Liberation Sans', sans-serif" font-size="19.6" font-weight="normal" fill="#111" text-anchor="middle" >p=1.77e-57</text>
<path d="M1692.7,119.6 V113 H1841.9 V119.6" fill="none" stroke="#8A8A8A" stroke-width="1.6"/>
<text x="1767.3" y="109" font-family="'DejaVu Sans', 'Liberation Sans', sans-serif" font-size="19.6" font-weight="normal" fill="#111" text-anchor="middle" >p=0.0001</text>
<path d="M1543.45,94.2 V87.6 H1841.9 V94.2" fill="none" stroke="#8A8A8A" stroke-width="1.6"/>
<text x="1692.68" y="83.6" font-family="'DejaVu Sans', 'Liberation Sans', sans-serif" font-size="19.6" font-weight="normal" fill="#111" text-anchor="middle" >p=2.63e-11</text>
<text x="1543.45" y="449.8" font-family="'DejaVu Sans', 'Liberation Sans', sans-serif" font-size="19.5" font-weight="normal" fill="#111" text-anchor="middle" >Not tested</text>
<text x="1543.45" y="471.8" font-family="'DejaVu Sans', 'Liberation Sans', sans-serif" font-size="19.5" font-weight="normal" fill="#111" text-anchor="middle" >(407174)</text>
<text x="1692.7" y="449.8" font-family="'DejaVu Sans', 'Liberation Sans', sans-serif" font-size="19.5" font-weight="normal" fill="#111" text-anchor="middle" >Tested/Deceased</text>
<text x="1692.7" y="471.8" font-family="'DejaVu Sans', 'Liberation Sans', sans-serif" font-size="19.5" font-weight="normal" fill="#111" text-anchor="middle" >(10320)</text>
<text x="1841.9" y="449.8" font-family="'DejaVu Sans', 'Liberation Sans', sans-serif" font-size="19.5" font-weight="normal" fill="#111" text-anchor="middle" >Deceased</text>
<text x="1841.9" y="471.8" font-family="'DejaVu Sans', 'Liberation Sans', sans-serif" font-size="19.5" font-weight="normal" fill="#111" text-anchor="middle" >(315)</text>
<text x="1692.6" y="42" font-family="'DejaVu Sans', 'Liberation Sans', sans-serif" font-size="19.5" font-weight="bold" fill="#000" text-anchor="middle" >(All, ANOVA p = 1.76e-100)</text>
<text transform="translate(1410.9,255.8) rotate(-90)" font-family="'DejaVu Sans', 'Liberation Sans', sans-serif" font-size="19.3" fill="#111" text-anchor="middle">Phenotypic Age</text>
<text transform="translate(1435.3,255.8) rotate(-90)" font-family="'DejaVu Sans', 'Liberation Sans', sans-serif" font-size="19.3" fill="#111" text-anchor="middle">acceleration (yr)</text>
<text x="1670.05" y="519.9" font-family="'Liberation Sans', Arial, Helvetica, sans-serif" font-size="30.3" font-weight="normal" fill="#000" text-anchor="middle" textLength="217.25" lengthAdjust="spacing" >Phenotypic Age</text>
<rect x="1498.55" y="869.5" width="89.8" height="69.7" fill="#FCEADB" stroke="#DCCBBF" stroke-width="1"/>
<rect x="1647.8" y="862.3" width="89.8" height="73.7" fill="#F1D9E2" stroke="#D6C0C9" stroke-width="1"/>
<rect x="1797" y="851.2" width="89.8" height="83.2" fill="#E3CBEC" stroke="#CDB6D5" stroke-width="1"/>
<line x1="1469" y1="976.71" x2="1915.5" y2="976.71" stroke="#C4C4C4" stroke-width="0.9" stroke-dasharray="1,1"/>
<line x1="1466.2" y1="976.71" x2="1469" y2="976.71" stroke="#444" stroke-width="1"/>
<text x="1463.3" y="982.11" font-family="'DejaVu Sans', 'Liberation Sans', sans-serif" font-size="14.4" font-weight="normal" fill="#262626" text-anchor="end" >−5</text>
<line x1="1469" y1="906.65" x2="1915.5" y2="906.65" stroke="#C4C4C4" stroke-width="0.9" stroke-dasharray="1,1"/>
<line x1="1466.2" y1="906.65" x2="1469" y2="906.65" stroke="#444" stroke-width="1"/>
<text x="1463.3" y="912.05" font-family="'DejaVu Sans', 'Liberation Sans', sans-serif" font-size="14.4" font-weight="normal" fill="#262626" text-anchor="end" >0</text>
<line x1="1469" y1="836.59" x2="1915.5" y2="836.59" stroke="#C4C4C4" stroke-width="0.9" stroke-dasharray="1,1"/>
<line x1="1466.2" y1="836.59" x2="1469" y2="836.59" stroke="#444" stroke-width="1"/>
<text x="1463.3" y="841.99" font-family="'DejaVu Sans', 'Liberation Sans', sans-serif" font-size="14.4" font-weight="normal" fill="#262626" text-anchor="end" >5</text>
<line x1="1469" y1="766.52" x2="1915.5" y2="766.52" stroke="#C4C4C4" stroke-width="0.9" stroke-dasharray="1,1"/>
<line x1="1466.2" y1="766.52" x2="1469" y2="766.52" stroke="#444" stroke-width="1"/>
<text x="1463.3" y="771.92" font-family="'DejaVu Sans', 'Liberation Sans', sans-serif" font-size="14.4" font-weight="normal" fill="#262626" text-anchor="end" >10</text>
<line x1="1469" y1="696.45" x2="1915.5" y2="696.45" stroke="#C4C4C4" stroke-width="0.9" stroke-dasharray="1,1"/>
<line x1="1466.2" y1="696.45" x2="1469" y2="696.45" stroke="#444" stroke-width="1"/>
<text x="1463.3" y="701.85" font-family="'DejaVu Sans', 'Liberation Sans', sans-serif" font-size="14.4" font-weight="normal" fill="#262626" text-anchor="end" >15</text>
<line x1="1543.45" y1="653.4" x2="1543.45" y2="1000.8" stroke="#C4C4C4" stroke-width="0.9" stroke-dasharray="1,1"/>
<line x1="1543.45" y1="1000.8" x2="1543.45" y2="1004" stroke="#444" stroke-width="1"/>
<line x1="1692.7" y1="653.4" x2="1692.7" y2="1000.8" stroke="#C4C4C4" stroke-width="0.9" stroke-dasharray="1,1"/>
<line x1="1692.7" y1="1000.8" x2="1692.7" y2="1004" stroke="#444" stroke-width="1"/>
<line x1="1841.9" y1="653.4" x2="1841.9" y2="1000.8" stroke="#C4C4C4" stroke-width="0.9" stroke-dasharray="1,1"/>
<line x1="1841.9" y1="1000.8" x2="1841.9" y2="1004" stroke="#444" stroke-width="1"/>
<line x1="1543.45" y1="810.5" x2="1543.45" y2="869.5" stroke="#000" stroke-width="1.75"/>
<line x1="1543.45" y1="939.2" x2="1543.45" y2="989.2" stroke="#000" stroke-width="1.75"/>
<line x1="1494.85" y1="904.3" x2="1592.05" y2="904.3" stroke="#F4923E" stroke-width="6"/>
<text x="1544.45" y="896.9" font-family="'DejaVu Sans', 'Liberation Sans', sans-serif" font-size="19.6" font-weight="normal" fill="#111" text-anchor="middle" >0.13</text>
<line x1="1692.7" y1="794.8" x2="1692.7" y2="862.3" stroke="#000" stroke-width="1.75"/>
<line x1="1692.7" y1="936" x2="1692.7" y2="985.7" stroke="#000" stroke-width="1.75"/>
<line x1="1644.1" y1="899.6" x2="1741.3" y2="899.6" stroke="#CD4577" stroke-width="6"/>
<text x="1693.7" y="892.75" font-family="'DejaVu Sans', 'Liberation Sans', sans-serif" font-size="19.6" font-weight="normal" fill="#111" text-anchor="middle" >0.51</text>
<line x1="1841.9" y1="784.8" x2="1841.9" y2="851.2" stroke="#000" stroke-width="1.75"/>
<line x1="1841.9" y1="934.4" x2="1841.9" y2="993.8" stroke="#000" stroke-width="1.75"/>
<line x1="1793.3" y1="892.15" x2="1890.5" y2="892.15" stroke="#7B12A8" stroke-width="6"/>
<text x="1842.9" y="885.2" font-family="'DejaVu Sans', 'Liberation Sans', sans-serif" font-size="19.6" font-weight="normal" fill="#111" text-anchor="middle" >1.00</text>
<path d="M1543.45,718.2 V711.6 H1692.7 V718.2" fill="none" stroke="#8A8A8A" stroke-width="1.6"/>
<text x="1618.08" y="707.6" font-family="'DejaVu Sans', 'Liberation Sans', sans-serif" font-size="19.6" font-weight="normal" fill="#111" text-anchor="middle" >p=4.08e-28</text>
<path d="M1692.7,692.1 V685.5 H1841.9 V692.1" fill="none" stroke="#8A8A8A" stroke-width="1.6"/>
<text x="1767.3" y="681.5" font-family="'DejaVu Sans', 'Liberation Sans', sans-serif" font-size="19.6" font-weight="normal" fill="#111" text-anchor="middle" >p=0.03</text>
<path d="M1543.45,665.7 V659.1 H1841.9 V665.7" fill="none" stroke="#8A8A8A" stroke-width="1.6"/>
<text x="1692.68" y="655.1" font-family="'DejaVu Sans', 'Liberation Sans', sans-serif" font-size="19.6" font-weight="normal" fill="#111" text-anchor="middle" >p=0.0001</text>
<text x="1543.45" y="1020.8" font-family="'DejaVu Sans', 'Liberation Sans', sans-serif" font-size="19.5" font-weight="normal" fill="#111" text-anchor="middle" >Not tested</text>
<text x="1543.45" y="1043.2" font-family="'DejaVu Sans', 'Liberation Sans', sans-serif" font-size="19.5" font-weight="normal" fill="#111" text-anchor="middle" >(459872)</text>
<text x="1692.7" y="1020.8" font-family="'DejaVu Sans', 'Liberation Sans', sans-serif" font-size="19.5" font-weight="normal" fill="#111" text-anchor="middle" >Tested/Deceased</text>
<text x="1692.7" y="1043.2" font-family="'DejaVu Sans', 'Liberation Sans', sans-serif" font-size="19.5" font-weight="normal" fill="#111" text-anchor="middle" >(11619)</text>
<text x="1841.9" y="1020.8" font-family="'DejaVu Sans', 'Liberation Sans', sans-serif" font-size="19.5" font-weight="normal" fill="#111" text-anchor="middle" >Deceased</text>
<text x="1841.9" y="1043.2" font-family="'DejaVu Sans', 'Liberation Sans', sans-serif" font-size="19.5" font-weight="normal" fill="#111" text-anchor="middle" >(346)</text>
<text x="1692.8" y="613.5" font-family="'DejaVu Sans', 'Liberation Sans', sans-serif" font-size="19.5" font-weight="bold" fill="#000" text-anchor="middle" >(All, ANOVA p = 4.26e-38)</text>
<text transform="translate(1412,828) rotate(-90)" font-family="'DejaVu Sans', 'Liberation Sans', sans-serif" font-size="19.3" fill="#111" text-anchor="middle">DOSI</text>
<text transform="translate(1435.3,828) rotate(-90)" font-family="'DejaVu Sans', 'Liberation Sans', sans-serif" font-size="19.3" fill="#111" text-anchor="middle">acceleration (yr)</text>
<text x="1684" y="1089" font-family="'Liberation Sans', Arial, Helvetica, sans-serif" font-size="30.3" font-weight="normal" fill="#000" text-anchor="middle" textLength="79.13" lengthAdjust="spacing" >DOSI</text>
<rect x="188.1" y="1443.4" width="89.8" height="60" fill="#FCEADB" stroke="#DCCBBF" stroke-width="1"/>
<rect x="338.7" y="1431.2" width="89.8" height="63.2" fill="#F1D9E2" stroke="#D6C0C9" stroke-width="1"/>
<rect x="489.3" y="1418.2" width="89.8" height="88.3" fill="#E3CBEC" stroke="#CDB6D5" stroke-width="1"/>
<line x1="158.2" y1="1525.23" x2="609" y2="1525.23" stroke="#C4C4C4" stroke-width="0.9" stroke-dasharray="1,1"/>
<line x1="155.4" y1="1525.23" x2="158.2" y2="1525.23" stroke="#444" stroke-width="1"/>
<text x="152.2" y="1530.63" font-family="'DejaVu Sans', 'Liberation Sans', sans-serif" font-size="14.4" font-weight="normal" fill="#262626" text-anchor="end" >−0.2</text>
<line x1="158.2" y1="1476.6" x2="609" y2="1476.6" stroke="#C4C4C4" stroke-width="0.9" stroke-dasharray="1,1"/>
<line x1="155.4" y1="1476.6" x2="158.2" y2="1476.6" stroke="#444" stroke-width="1"/>
<text x="152.2" y="1482" font-family="'DejaVu Sans', 'Liberation Sans', sans-serif" font-size="14.4" font-weight="normal" fill="#262626" text-anchor="end" >0.0</text>
<line x1="158.2" y1="1427.97" x2="609" y2="1427.97" stroke="#C4C4C4" stroke-width="0.9" stroke-dasharray="1,1"/>
<line x1="155.4" y1="1427.97" x2="158.2" y2="1427.97" stroke="#444" stroke-width="1"/>
<text x="152.2" y="1433.37" font-family="'DejaVu Sans', 'Liberation Sans', sans-serif" font-size="14.4" font-weight="normal" fill="#262626" text-anchor="end" >0.2</text>
<line x1="158.2" y1="1379.33" x2="609" y2="1379.33" stroke="#C4C4C4" stroke-width="0.9" stroke-dasharray="1,1"/>
<line x1="155.4" y1="1379.33" x2="158.2" y2="1379.33" stroke="#444" stroke-width="1"/>
<text x="152.2" y="1384.73" font-family="'DejaVu Sans', 'Liberation Sans', sans-serif" font-size="14.4" font-weight="normal" fill="#262626" text-anchor="end" >0.4</text>
<line x1="158.2" y1="1330.7" x2="609" y2="1330.7" stroke="#C4C4C4" stroke-width="0.9" stroke-dasharray="1,1"/>
<line x1="155.4" y1="1330.7" x2="158.2" y2="1330.7" stroke="#444" stroke-width="1"/>
<text x="152.2" y="1336.1" font-family="'DejaVu Sans', 'Liberation Sans', sans-serif" font-size="14.4" font-weight="normal" fill="#262626" text-anchor="end" >0.6</text>
<line x1="158.2" y1="1282.06" x2="609" y2="1282.06" stroke="#C4C4C4" stroke-width="0.9" stroke-dasharray="1,1"/>
<line x1="155.4" y1="1282.06" x2="158.2" y2="1282.06" stroke="#444" stroke-width="1"/>
<text x="152.2" y="1287.46" font-family="'DejaVu Sans', 'Liberation Sans', sans-serif" font-size="14.4" font-weight="normal" fill="#262626" text-anchor="end" >0.8</text>
<line x1="158.2" y1="1233.43" x2="609" y2="1233.43" stroke="#C4C4C4" stroke-width="0.9" stroke-dasharray="1,1"/>
<line x1="155.4" y1="1233.43" x2="158.2" y2="1233.43" stroke="#444" stroke-width="1"/>
<text x="152.2" y="1238.83" font-family="'DejaVu Sans', 'Liberation Sans', sans-serif" font-size="14.4" font-weight="normal" fill="#262626" text-anchor="end" >1.0</text>
<line x1="233" y1="1195.8" x2="233" y2="1547.4" stroke="#C4C4C4" stroke-width="0.9" stroke-dasharray="1,1"/>
<line x1="233" y1="1547.4" x2="233" y2="1550.6" stroke="#444" stroke-width="1"/>
<line x1="383.6" y1="1195.8" x2="383.6" y2="1547.4" stroke="#C4C4C4" stroke-width="0.9" stroke-dasharray="1,1"/>
<line x1="383.6" y1="1547.4" x2="383.6" y2="1550.6" stroke="#444" stroke-width="1"/>
<line x1="534.2" y1="1195.8" x2="534.2" y2="1547.4" stroke="#C4C4C4" stroke-width="0.9" stroke-dasharray="1,1"/>
<line x1="534.2" y1="1547.4" x2="534.2" y2="1550.6" stroke="#444" stroke-width="1"/>
<line x1="233" y1="1381.6" x2="233" y2="1443.4" stroke="#000" stroke-width="1.75"/>
<line x1="233" y1="1503.4" x2="233" y2="1539.8" stroke="#000" stroke-width="1.75"/>
<line x1="184.4" y1="1474.8" x2="281.6" y2="1474.8" stroke="#F4923E" stroke-width="6"/>
<text x="234" y="1467.6" font-family="'DejaVu Sans', 'Liberation Sans', sans-serif" font-size="19.6" font-weight="normal" fill="#111" text-anchor="middle" >0.00</text>
<line x1="383.6" y1="1360.6" x2="383.6" y2="1431.2" stroke="#000" stroke-width="1.75"/>
<line x1="383.6" y1="1494.4" x2="383.6" y2="1531.7" stroke="#000" stroke-width="1.75"/>
<line x1="335" y1="1465.6" x2="432.2" y2="1465.6" stroke="#CD4577" stroke-width="6"/>
<text x="384.6" y="1458.8" font-family="'DejaVu Sans', 'Liberation Sans', sans-serif" font-size="19.6" font-weight="normal" fill="#111" text-anchor="middle" >0.04</text>
<line x1="534.2" y1="1333" x2="534.2" y2="1418.2" stroke="#000" stroke-width="1.75"/>
<line x1="534.2" y1="1506.5" x2="534.2" y2="1537" stroke="#000" stroke-width="1.75"/>
<line x1="485.6" y1="1459.85" x2="582.8" y2="1459.85" stroke="#7B12A8" stroke-width="6"/>
<text x="535.2" y="1453.1" font-family="'DejaVu Sans', 'Liberation Sans', sans-serif" font-size="19.6" font-weight="normal" fill="#111" text-anchor="middle" >0.06</text>
<path d="M233,1237.6 V1231 H383.6 V1237.6" fill="none" stroke="#8A8A8A" stroke-width="1.6"/>
<text x="308.3" y="1227" font-family="'DejaVu Sans', 'Liberation Sans', sans-serif" font-size="19.6" font-weight="normal" fill="#111" text-anchor="middle" >p=1.81e-21</text>
<path d="M233,1208.4 V1201.8 H534.2 V1208.4" fill="none" stroke="#8A8A8A" stroke-width="1.6"/>
<text x="383.6" y="1197.8" font-family="'DejaVu Sans', 'Liberation Sans', sans-serif" font-size="19.6" font-weight="normal" fill="#111" text-anchor="middle" >p=0.04</text>
<text x="233" y="1568.6" font-family="'DejaVu Sans', 'Liberation Sans', sans-serif" font-size="19.5" font-weight="normal" fill="#111" text-anchor="middle" >Not tested</text>
<text x="233" y="1591" font-family="'DejaVu Sans', 'Liberation Sans', sans-serif" font-size="19.5" font-weight="normal" fill="#111" text-anchor="middle" >(97649)</text>
<text x="383.6" y="1568.6" font-family="'DejaVu Sans', 'Liberation Sans', sans-serif" font-size="19.5" font-weight="normal" fill="#111" text-anchor="middle" >Tested/Deceased</text>
<text x="383.6" y="1591" font-family="'DejaVu Sans', 'Liberation Sans', sans-serif" font-size="19.5" font-weight="normal" fill="#111" text-anchor="middle" >(2117)</text>
<text x="534.2" y="1568.6" font-family="'DejaVu Sans', 'Liberation Sans', sans-serif" font-size="19.5" font-weight="normal" fill="#111" text-anchor="middle" >Deceased</text>
<text x="534.2" y="1591" font-family="'DejaVu Sans', 'Liberation Sans', sans-serif" font-size="19.5" font-weight="normal" fill="#111" text-anchor="middle" >(35)</text>
<text x="383.2" y="1156.4" font-family="'DejaVu Sans', 'Liberation Sans', sans-serif" font-size="19.5" font-weight="bold" fill="#000" text-anchor="middle" >(All, ANOVA p = 1.26e-21)</text>
<text transform="translate(86.1,1372.4) rotate(-90)" font-family="'DejaVu Sans', 'Liberation Sans', sans-serif" font-size="19.5" fill="#111" text-anchor="middle">Negative log</text>
<text transform="translate(108.4,1372.4) rotate(-90)" font-family="'DejaVu Sans', 'Liberation Sans', sans-serif" font-size="19.5" fill="#111" text-anchor="middle">of Physical activity</text>
<text x="360.15" y="1642.8" font-family="'Liberation Sans', Arial, Helvetica, sans-serif" font-size="30.3" font-weight="normal" fill="#000" text-anchor="middle" textLength="222.43" lengthAdjust="spacing" >Physical Activity</text>
<text x="995.5" y="1257.7" font-family="'Liberation Sans', Arial, Helvetica, sans-serif" font-size="24.8" font-weight="normal" fill="#4D4D4D" text-anchor="end" textLength="271.04" lengthAdjust="spacing" >COVID19 incidence (All)</text>
<text x="995.2" y="1314.5" font-family="'Liberation Sans', Arial, Helvetica, sans-serif" font-size="24.8" font-weight="normal" fill="#4D4D4D" text-anchor="end" textLength="189.52" lengthAdjust="spacing" >Case fatality (All)</text>
<text x="995.4" y="1371.1" font-family="'Liberation Sans', Arial, Helvetica, sans-serif" font-size="24.8" font-weight="normal" fill="#4D4D4D" text-anchor="end" textLength="328.28" lengthAdjust="spacing" >COVID19 incidence (Not frail)</text>
<text x="995.1" y="1428.6" font-family="'Liberation Sans', Arial, Helvetica, sans-serif" font-size="24.8" font-weight="normal" fill="#4D4D4D" text-anchor="end" textLength="246.95" lengthAdjust="spacing" >Case fatality (Not frail)</text>
<text x="995.2" y="1485.5" font-family="'Liberation Sans', Arial, Helvetica, sans-serif" font-size="24.8" font-weight="normal" fill="#4D4D4D" text-anchor="end" textLength="291.47" lengthAdjust="spacing" >COVID19 incidence (Frail)</text>
<text x="995.4" y="1542" font-family="'Liberation Sans', Arial, Helvetica, sans-serif" font-size="24.8" font-weight="normal" fill="#4D4D4D" text-anchor="end" textLength="208.9" lengthAdjust="spacing" >Case fatality (Frail)</text>
<line x1="1017.6" y1="1215.2" x2="1017.6" y2="1567.3" stroke="#DFDFDF" stroke-width="1.3"/>
<line x1="1061.23" y1="1215.2" x2="1061.23" y2="1567.3" stroke="#DFDFDF" stroke-width="1.3"/>
<line x1="1104.86" y1="1215.2" x2="1104.86" y2="1567.3" stroke="#DFDFDF" stroke-width="1.3"/>
<line x1="1148.49" y1="1215.2" x2="1148.49" y2="1567.3" stroke="#DFDFDF" stroke-width="1.3"/>
<line x1="1192.12" y1="1215.2" x2="1192.12" y2="1567.3" stroke="#DFDFDF" stroke-width="1.3"/>
<line x1="1235.75" y1="1215.2" x2="1235.75" y2="1567.3" stroke="#DFDFDF" stroke-width="1.3"/>
<line x1="1279.38" y1="1215.2" x2="1279.38" y2="1567.3" stroke="#DFDFDF" stroke-width="1.3"/>
<line x1="1001" y1="1248.8" x2="1293.5" y2="1248.8" stroke="#D5D5D5" stroke-width="1.3"/>
<line x1="1001" y1="1305.66" x2="1293.5" y2="1305.66" stroke="#D5D5D5" stroke-width="1.3"/>
<line x1="1001" y1="1362.52" x2="1293.5" y2="1362.52" stroke="#D5D5D5" stroke-width="1.3"/>
<line x1="1001" y1="1419.38" x2="1293.5" y2="1419.38" stroke="#D5D5D5" stroke-width="1.3"/>
<line x1="1001" y1="1476.24" x2="1293.5" y2="1476.24" stroke="#D5D5D5" stroke-width="1.3"/>
<line x1="1001" y1="1533.1" x2="1293.5" y2="1533.1" stroke="#D5D5D5" stroke-width="1.3"/>
<line x1="1017.6" y1="1220.8" x2="1017.6" y2="1567.3" stroke="#8B0000" stroke-width="2.4" stroke-dasharray="8.9,8.8"/>
<g stroke="#FFA500" stroke-width="2.4" fill="none"><line x1="1060.5" y1="1248.8" x2="1071.8" y2="1248.8"/><line x1="1060.5" y1="1241.7" x2="1060.5" y2="1255.9"/><line x1="1071.8" y1="1241.7" x2="1071.8" y2="1255.9"/></g>
<circle cx="1067" cy="1248.8" r="4.6" fill="#FFA500"/>
<g stroke="#000000" stroke-width="2.4" fill="none"><line x1="1024.7" y1="1305.66" x2="1078.9" y2="1305.66"/><line x1="1024.7" y1="1298.56" x2="1024.7" y2="1312.76"/><line x1="1078.9" y1="1298.56" x2="1078.9" y2="1312.76"/></g>
<circle cx="1050" cy="1305.66" r="4.6" fill="#000000"/>
<g stroke="#000000" stroke-width="2.4" fill="none"><line x1="1024.7" y1="1362.52" x2="1052.1" y2="1362.52"/><line x1="1024.7" y1="1355.42" x2="1024.7" y2="1369.62"/><line x1="1052.1" y1="1355.42" x2="1052.1" y2="1369.62"/></g>
<circle cx="1038" cy="1362.52" r="4.6" fill="#000000"/>
<g stroke="#000000" stroke-width="2.4" fill="none"><line x1="1048" y1="1419.38" x2="1280.6" y2="1419.38"/><line x1="1048" y1="1412.28" x2="1048" y2="1426.48"/><line x1="1280.6" y1="1412.28" x2="1280.6" y2="1426.48"/></g>
<circle cx="1142.5" cy="1419.38" r="4.6" fill="#000000"/>
<g stroke="#FFA500" stroke-width="2.4" fill="none"><line x1="1058.2" y1="1476.24" x2="1070.1" y2="1476.24"/><line x1="1058.2" y1="1469.14" x2="1058.2" y2="1483.34"/><line x1="1070.1" y1="1469.14" x2="1070.1" y2="1483.34"/></g>
<circle cx="1062.6" cy="1476.24" r="4.6" fill="#FFA500"/>
<g stroke="#BEBEBE" stroke-width="2.4" fill="none"><line x1="1014" y1="1533.1" x2="1071.8" y2="1533.1"/><line x1="1014" y1="1526" x2="1014" y2="1540.2"/><line x1="1071.8" y1="1526" x2="1071.8" y2="1540.2"/></g>
<circle cx="1040.2" cy="1533.1" r="4.6" fill="#BEBEBE"/>
<text x="1018.4" y="1591.5" font-family="'Liberation Sans', Arial, Helvetica, sans-serif" font-size="25.2" font-weight="normal" fill="#4D4D4D" text-anchor="middle" >1.00</text>
<text x="1105.7" y="1591.5" font-family="'Liberation Sans', Arial, Helvetica, sans-serif" font-size="25.2" font-weight="normal" fill="#4D4D4D" text-anchor="middle" >1.50</text>
<text x="1192.9" y="1591.5" font-family="'Liberation Sans', Arial, Helvetica, sans-serif" font-size="25.2" font-weight="normal" fill="#4D4D4D" text-anchor="middle" >2.00</text>
<text x="1280.2" y="1591.5" font-family="'Liberation Sans', Arial, Helvetica, sans-serif" font-size="25.2" font-weight="normal" fill="#4D4D4D" text-anchor="middle" >2.50</text>
<text x="1010.1" y="1201.3" font-family="'Liberation Sans', Arial, Helvetica, sans-serif" font-size="33.7" font-weight="bold" fill="#1A1A1A" text-anchor="start" textLength="254.62" lengthAdjust="spacing" >Phenotypic Age</text>
<line x1="1390.3" y1="1215.2" x2="1390.3" y2="1567.3" stroke="#DFDFDF" stroke-width="1.3"/>
<line x1="1430.13" y1="1215.2" x2="1430.13" y2="1567.3" stroke="#DFDFDF" stroke-width="1.3"/>
<line x1="1469.96" y1="1215.2" x2="1469.96" y2="1567.3" stroke="#DFDFDF" stroke-width="1.3"/>
<line x1="1509.79" y1="1215.2" x2="1509.79" y2="1567.3" stroke="#DFDFDF" stroke-width="1.3"/>
<line x1="1549.62" y1="1215.2" x2="1549.62" y2="1567.3" stroke="#DFDFDF" stroke-width="1.3"/>
<line x1="1589.45" y1="1215.2" x2="1589.45" y2="1567.3" stroke="#DFDFDF" stroke-width="1.3"/>
<line x1="1629.28" y1="1215.2" x2="1629.28" y2="1567.3" stroke="#DFDFDF" stroke-width="1.3"/>
<line x1="1354" y1="1248.8" x2="1647" y2="1248.8" stroke="#D5D5D5" stroke-width="1.3"/>
<line x1="1354" y1="1305.66" x2="1647" y2="1305.66" stroke="#D5D5D5" stroke-width="1.3"/>
<line x1="1354" y1="1362.52" x2="1647" y2="1362.52" stroke="#D5D5D5" stroke-width="1.3"/>
<line x1="1354" y1="1419.38" x2="1647" y2="1419.38" stroke="#D5D5D5" stroke-width="1.3"/>
<line x1="1354" y1="1476.24" x2="1647" y2="1476.24" stroke="#D5D5D5" stroke-width="1.3"/>
<line x1="1354" y1="1533.1" x2="1647" y2="1533.1" stroke="#D5D5D5" stroke-width="1.3"/>
<line x1="1390.3" y1="1220.8" x2="1390.3" y2="1567.3" stroke="#8B0000" stroke-width="2.4" stroke-dasharray="8.9,8.8"/>
<g stroke="#FFA500" stroke-width="2.4" fill="none"><line x1="1410" y1="1248.8" x2="1421" y2="1248.8"/><line x1="1410" y1="1241.7" x2="1410" y2="1255.9"/><line x1="1421" y1="1241.7" x2="1421" y2="1255.9"/></g>
<circle cx="1415.4" cy="1248.8" r="4.6" fill="#FFA500"/>
<g stroke="#BEBEBE" stroke-width="2.4" fill="none"><line x1="1381.4" y1="1305.66" x2="1427" y2="1305.66"/><line x1="1381.4" y1="1298.56" x2="1381.4" y2="1312.76"/><line x1="1427" y1="1298.56" x2="1427" y2="1312.76"/></g>
<circle cx="1401.4" cy="1305.66" r="4.6" fill="#BEBEBE"/>
<g stroke="#000000" stroke-width="2.4" fill="none"><line x1="1391" y1="1362.52" x2="1406" y2="1362.52"/><line x1="1391" y1="1355.42" x2="1391" y2="1369.62"/><line x1="1406" y1="1355.42" x2="1406" y2="1369.62"/></g>
<circle cx="1398" cy="1362.52" r="4.6" fill="#000000"/>
<g stroke="#FFA500" stroke-width="2.4" fill="none"><line x1="1425.9" y1="1419.38" x2="1633.4" y2="1419.38"/><line x1="1425.9" y1="1412.28" x2="1425.9" y2="1426.48"/><line x1="1633.4" y1="1412.28" x2="1633.4" y2="1426.48"/></g>
<circle cx="1504.3" cy="1419.38" r="4.6" fill="#FFA500"/>
<g stroke="#FFA500" stroke-width="2.4" fill="none"><line x1="1412.5" y1="1476.24" x2="1423.7" y2="1476.24"/><line x1="1412.5" y1="1469.14" x2="1412.5" y2="1483.34"/><line x1="1423.7" y1="1469.14" x2="1423.7" y2="1483.34"/></g>
<circle cx="1418" cy="1476.24" r="4.6" fill="#FFA500"/>
<g stroke="#BEBEBE" stroke-width="2.4" fill="none"><line x1="1367.4" y1="1533.1" x2="1410.2" y2="1533.1"/><line x1="1367.4" y1="1526" x2="1367.4" y2="1540.2"/><line x1="1410.2" y1="1526" x2="1410.2" y2="1540.2"/></g>
<circle cx="1385.4" cy="1533.1" r="4.6" fill="#BEBEBE"/>
<text x="1391.1" y="1591.5" font-family="'Liberation Sans', Arial, Helvetica, sans-serif" font-size="25.2" font-weight="normal" fill="#4D4D4D" text-anchor="middle" >1.00</text>
<text x="1470.8" y="1591.5" font-family="'Liberation Sans', Arial, Helvetica, sans-serif" font-size="25.2" font-weight="normal" fill="#4D4D4D" text-anchor="middle" >2.00</text>
<text x="1550.4" y="1591.5" font-family="'Liberation Sans', Arial, Helvetica, sans-serif" font-size="25.2" font-weight="normal" fill="#4D4D4D" text-anchor="middle" >3.00</text>
<text x="1630.1" y="1591.5" font-family="'Liberation Sans', Arial, Helvetica, sans-serif" font-size="25.2" font-weight="normal" fill="#4D4D4D" text-anchor="middle" >4.00</text>
<text x="1363.1" y="1201.3" font-family="'Liberation Sans', Arial, Helvetica, sans-serif" font-size="33.7" font-weight="bold" fill="#1A1A1A" text-anchor="start" textLength="82.28" lengthAdjust="spacing" >DOSI</text>
<line x1="1714.4" y1="1215.2" x2="1714.4" y2="1567.3" stroke="#DFDFDF" stroke-width="1.3"/>
<line x1="1745.85" y1="1215.2" x2="1745.85" y2="1567.3" stroke="#DFDFDF" stroke-width="1.3"/>
<line x1="1777.3" y1="1215.2" x2="1777.3" y2="1567.3" stroke="#DFDFDF" stroke-width="1.3"/>
<line x1="1808.75" y1="1215.2" x2="1808.75" y2="1567.3" stroke="#DFDFDF" stroke-width="1.3"/>
<line x1="1840.2" y1="1215.2" x2="1840.2" y2="1567.3" stroke="#DFDFDF" stroke-width="1.3"/>
<line x1="1871.65" y1="1215.2" x2="1871.65" y2="1567.3" stroke="#DFDFDF" stroke-width="1.3"/>
<line x1="1903.1" y1="1215.2" x2="1903.1" y2="1567.3" stroke="#DFDFDF" stroke-width="1.3"/>
<line x1="1934.55" y1="1215.2" x2="1934.55" y2="1567.3" stroke="#DFDFDF" stroke-width="1.3"/>
<line x1="1966" y1="1215.2" x2="1966" y2="1567.3" stroke="#DFDFDF" stroke-width="1.3"/>
<line x1="1997.45" y1="1215.2" x2="1997.45" y2="1567.3" stroke="#DFDFDF" stroke-width="1.3"/>
<line x1="1706.9" y1="1248.8" x2="2000" y2="1248.8" stroke="#D5D5D5" stroke-width="1.3"/>
<line x1="1706.9" y1="1305.66" x2="2000" y2="1305.66" stroke="#D5D5D5" stroke-width="1.3"/>
<line x1="1706.9" y1="1362.52" x2="2000" y2="1362.52" stroke="#D5D5D5" stroke-width="1.3"/>
<line x1="1706.9" y1="1419.38" x2="2000" y2="1419.38" stroke="#D5D5D5" stroke-width="1.3"/>
<line x1="1706.9" y1="1476.24" x2="2000" y2="1476.24" stroke="#D5D5D5" stroke-width="1.3"/>
<line x1="1706.9" y1="1533.1" x2="2000" y2="1533.1" stroke="#D5D5D5" stroke-width="1.3"/>
<line x1="1840" y1="1220.8" x2="1840" y2="1567.3" stroke="#8B0000" stroke-width="2.4" stroke-dasharray="8.9,8.8"/>
<g stroke="#FFA500" stroke-width="2.4" fill="none"><line x1="1754.9" y1="1248.8" x2="1790.9" y2="1248.8"/><line x1="1754.9" y1="1241.7" x2="1754.9" y2="1255.9"/><line x1="1790.9" y1="1241.7" x2="1790.9" y2="1255.9"/></g>
<circle cx="1778.4" cy="1248.8" r="4.6" fill="#FFA500"/>
<g stroke="#BEBEBE" stroke-width="2.4" fill="none"><line x1="1720.3" y1="1305.66" x2="1986.4" y2="1305.66"/><line x1="1720.3" y1="1298.56" x2="1720.3" y2="1312.76"/><line x1="1986.4" y1="1298.56" x2="1986.4" y2="1312.76"/></g>
<circle cx="1840" cy="1305.66" r="4.6" fill="#BEBEBE"/>
<text x="1715.2" y="1591.5" font-family="'Liberation Sans', Arial, Helvetica, sans-serif" font-size="25.2" font-weight="normal" fill="#4D4D4D" text-anchor="middle" >0.90</text>
<text x="1778.1" y="1591.5" font-family="'Liberation Sans', Arial, Helvetica, sans-serif" font-size="25.2" font-weight="normal" fill="#4D4D4D" text-anchor="middle" >0.95</text>
<text x="1841" y="1591.5" font-family="'Liberation Sans', Arial, Helvetica, sans-serif" font-size="25.2" font-weight="normal" fill="#4D4D4D" text-anchor="middle" >1.00</text>
<text x="1903.9" y="1591.5" font-family="'Liberation Sans', Arial, Helvetica, sans-serif" font-size="25.2" font-weight="normal" fill="#4D4D4D" text-anchor="middle" >1.05</text>
<text x="1966.8" y="1591.5" font-family="'Liberation Sans', Arial, Helvetica, sans-serif" font-size="25.2" font-weight="normal" fill="#4D4D4D" text-anchor="middle" >1.10</text>
<text x="1716.4" y="1201.3" font-family="'Liberation Sans', Arial, Helvetica, sans-serif" font-size="33.7" font-weight="bold" fill="#1A1A1A" text-anchor="start" textLength="264.48" lengthAdjust="spacing" >Physical Activity</text>
<text x="1367.15" y="1630.3" font-family="'Liberation Sans', Arial, Helvetica, sans-serif" font-size="37.2" font-weight="normal" fill="#000" text-anchor="start" textLength="633" lengthAdjust="spacing" >Odds Ratio (95% Confidence Interval)</text>
</svg></body></html>
